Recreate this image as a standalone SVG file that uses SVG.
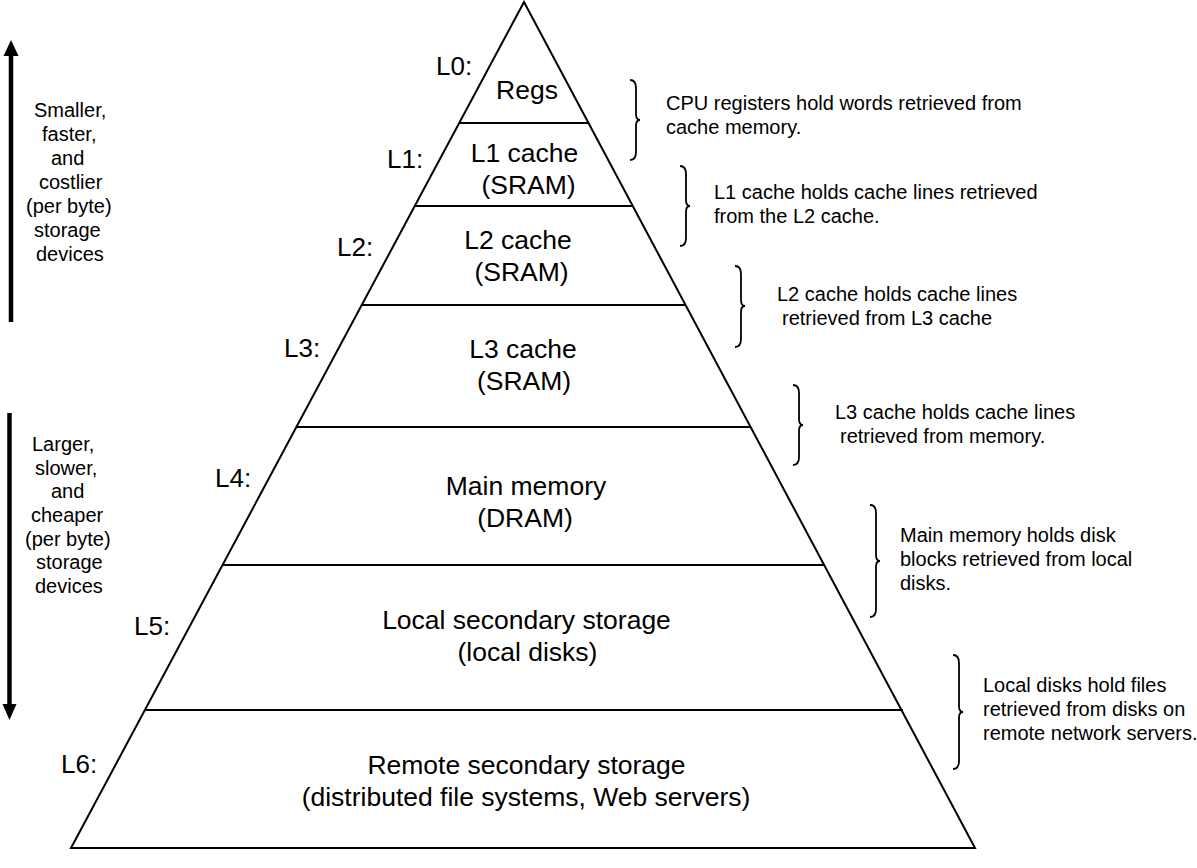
<svg xmlns="http://www.w3.org/2000/svg" width="1197" height="868" viewBox="0 0 1197 868">
<style>
text{font-family:"Liberation Sans",Arial,sans-serif;fill:#000}
.t{font-size:26.5px;text-anchor:middle}
.lv{font-size:26px}
.s{font-size:20px}
.ln{stroke:#000;stroke-width:2;fill:none}
.br{stroke:#000;stroke-width:1.8;fill:none}
.ar{stroke:#000;stroke-width:4.5}
</style>
<g id="pyramid">
<polygon class="ln" points="524,2 71,848 975,848"/>
</g>
<g id="connectors">
<line class="ln" x1="459" y1="123" x2="589" y2="123"/>
<line class="ln" x1="415" y1="206" x2="633" y2="206"/>
<line class="ln" x1="362" y1="305" x2="686" y2="305"/>
<line class="ln" x1="296" y1="427" x2="751" y2="427"/>
<line class="ln" x1="222" y1="565" x2="825" y2="565"/>
<line class="ln" x1="145" y1="710" x2="903" y2="710"/>
<line class="ar" x1="11" y1="322" x2="11" y2="54"/>
<polygon points="11,40 3.5,56 18.5,56" fill="#000"/>
<line class="ar" x1="9.5" y1="413" x2="9.5" y2="706"/>
<polygon points="9.5,720 2.5,704 16.5,704" fill="#000"/>
</g>
<g id="L0"><text class="lv" x="436" y="75">L0:</text><text class="t" x="527" y="99">Regs</text></g>
<g id="L1"><text class="lv" x="387" y="168">L1:</text><text class="t" x="524.5" y="162">L1 cache</text><text class="t" x="528.5" y="194">(SRAM)</text></g>
<g id="L2"><text class="lv" x="337" y="256">L2:</text><text class="t" x="518" y="249">L2 cache</text><text class="t" x="521.5" y="281">(SRAM)</text></g>
<g id="L3"><text class="lv" x="284" y="357">L3:</text><text class="t" x="523" y="358">L3 cache</text><text class="t" x="524" y="390">(SRAM)</text></g>
<g id="L4"><text class="lv" x="215" y="487">L4:</text><text class="t" x="526" y="495">Main memory</text><text class="t" x="525" y="527">(DRAM)</text></g>
<g id="L5"><text class="lv" x="134" y="635">L5:</text><text class="t" x="526.5" y="629">Local secondary storage</text><text class="t" x="527.5" y="661">(local disks)</text></g>
<g id="L6"><text class="lv" x="61" y="773">L6:</text><text class="t" x="526.5" y="774">Remote secondary storage</text><text class="t" x="526" y="806">(distributed file systems, Web servers)</text></g>
<g id="left-top">
<text class="s" x="34" y="117">Smaller,</text>
<text class="s" x="42" y="141">faster,</text>
<text class="s" x="51" y="165">and</text>
<text class="s" x="39" y="189">costlier</text>
<text class="s" x="26" y="213">(per byte)</text>
<text class="s" x="34" y="237">storage</text>
<text class="s" x="36" y="261">devices</text>
</g>
<g id="left-bottom">
<text class="s" x="32" y="451">Larger,</text>
<text class="s" x="35" y="475">slower,</text>
<text class="s" x="51" y="498">and</text>
<text class="s" x="31" y="522">cheaper</text>
<text class="s" x="25" y="546">(per byte)</text>
<text class="s" x="36" y="569">storage</text>
<text class="s" x="35" y="593">devices</text>
</g>
<g id="note0">
<path class="br" d="M630,80 C634,80 636,82 636,88 L636,114 C636,118 637,120 640,120 C637,120 636,122 636,126 L636,152 C636,158 634,160 630,160"/>
<text class="s" x="666" y="110">CPU registers hold words retrieved from</text>
<text class="s" x="666" y="134">cache memory.</text>
</g>
<g id="note1">
<path class="br" d="M680,166 C684,166 686,168 686,174 L686,200 C686,204 687,206 690,206 C687,206 686,208 686,212 L686,238 C686,244 684,246 680,246"/>
<text class="s" x="714" y="199">L1 cache holds cache lines retrieved</text>
<text class="s" x="714" y="223">from the L2 cache.</text>
</g>
<g id="note2">
<path class="br" d="M735,266 C739,266 741,268 741,274 L741,300 C741,304 742,306 745,306 C742,306 741,308 741,312 L741,339 C741,345 739,347 735,347"/>
<text class="s" x="777" y="301">L2 cache holds cache lines</text>
<text class="s" x="782" y="325">retrieved from L3 cache</text>
</g>
<g id="note3">
<path class="br" d="M793,385 C797,385 799,387 799,393 L799,419 C799,423 800,425 803,425 C800,425 799,427 799,431 L799,457 C799,463 797,465 793,465"/>
<text class="s" x="835" y="419">L3 cache holds cache lines</text>
<text class="s" x="840" y="443">retrieved from memory.</text>
</g>
<g id="note4">
<path class="br" d="M870,505 C874,505 876,507 876,513 L876,555 C876,559 877,561 880,561 C877,561 876,563 876,567 L876,609 C876,615 874,617 870,617"/>
<text class="s" x="900" y="542">Main memory holds disk</text>
<text class="s" x="900" y="566">blocks retrieved from local</text>
<text class="s" x="900" y="590">disks.</text>
</g>
<g id="note5">
<path class="br" d="M953,655 C957,655 959,657 959,663 L959,706 C959,710 960,712 963,712 C960,712 959,714 959,718 L959,761 C959,767 957,769 953,769"/>
<text class="s" x="983" y="692">Local disks hold files</text>
<text class="s" x="983" y="716">retrieved from disks on</text>
<text class="s" x="983" y="740">remote network servers.</text>
</g>
</svg>
